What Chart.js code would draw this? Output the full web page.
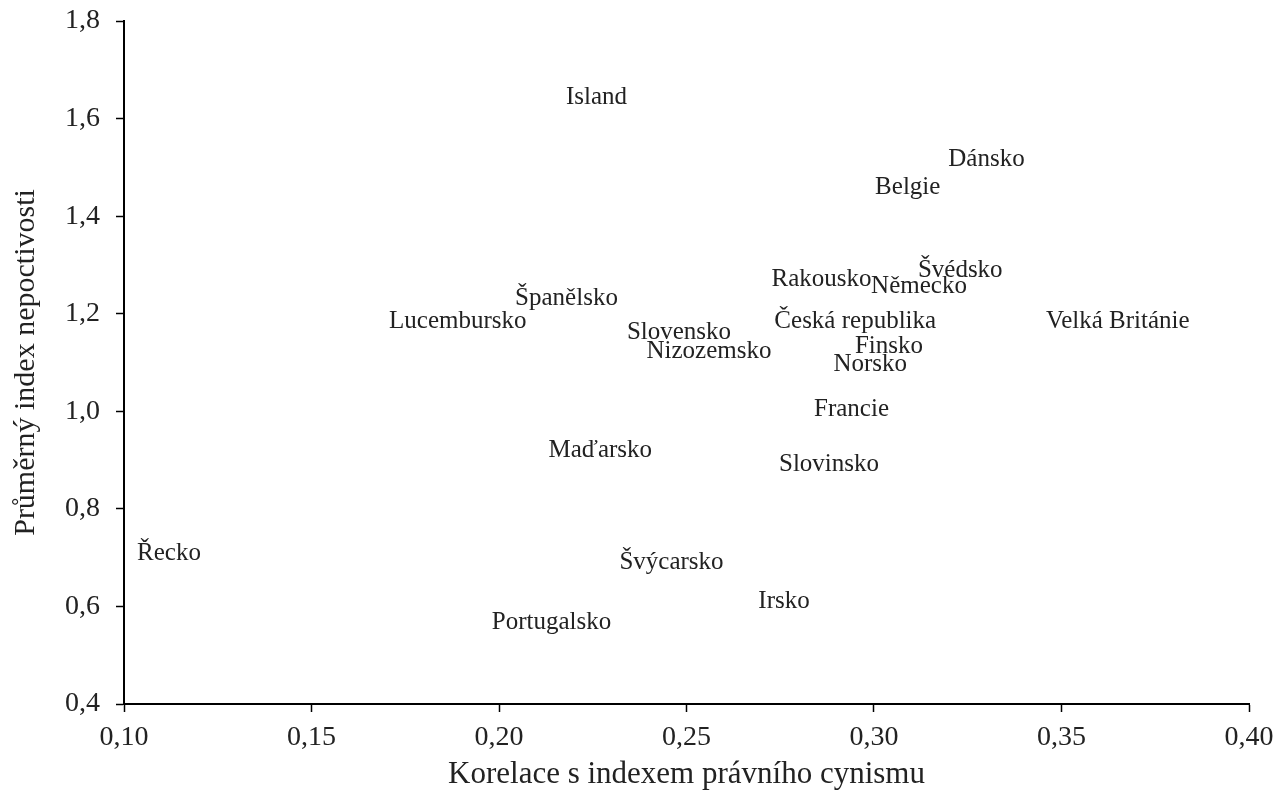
<!DOCTYPE html>
<html>
<head>
<meta charset="utf-8">
<script src="https://cdn.jsdelivr.net/npm/chart.js@4/dist/chart.umd.min.js"></script>
<style>
  html, body { margin: 0; padding: 0; background: #fff; }
  #wrap { width: 1283px; height: 795px; position: relative; }
</style>
</head>
<body>
<div id="wrap"><canvas id="c" width="1283" height="795"></canvas></div>
<script>
const countries = ["Island","Dánsko","Belgie","Švédsko","Rakousko","Německo","Španělsko","Lucembursko","Česká republika","Velká Británie","Slovensko","Nizozemsko","Finsko","Norsko","Francie","Maďarsko","Slovinsko","Řecko","Švýcarsko","Irsko","Portugalsko"];
const cynismCorrelation = [0.226,0.330,0.309,0.323,0.286,0.312,0.218,0.189,0.295,0.365,0.248,0.256,0.304,0.299,0.294,0.227,0.288,0.112,0.246,0.276,0.214];
const dishonestyIndex = [1.644,1.517,1.458,1.288,1.271,1.255,1.232,1.185,1.185,1.185,1.161,1.122,1.132,1.097,1.003,0.919,0.892,0.708,0.691,0.611,0.568];
const xTicks = [0.10,0.15,0.20,0.25,0.30,0.35,0.40];
const yTicks = [0.4,0.6,0.8,1.0,1.2,1.4,1.6,1.8];

const FONT = "'Liberation Serif', 'Times New Roman', serif";
const points = countries.map((c, i) => ({ x: cynismCorrelation[i], y: dishonestyIndex[i], label: c }));

const labelPlugin = {
  id: 'pointLabels',
  afterDatasetsDraw(chart) {
    const ctx = chart.ctx;
    const meta = chart.getDatasetMeta(0);
    ctx.save();
    ctx.font = "25px " + FONT;
    ctx.fillStyle = "#222";
    ctx.textAlign = "center";
    ctx.textBaseline = "middle";
    meta.data.forEach((el, i) => {
      ctx.fillText(countries[i], el.x, el.y);
    });
    ctx.restore();
  }
};

new Chart(document.getElementById('c'), {
  type: 'scatter',
  data: { datasets: [{ data: points, pointRadius: 0, pointHoverRadius: 0 }] },
  options: {
    responsive: false,
    animation: false,
    events: [],
    layout: { padding: { left: 0, right: 34, top: 21, bottom: 0 } },
    plugins: { legend: { display: false }, tooltip: { enabled: false } },
    scales: {
      x: {
        type: 'linear', min: 0.1, max: 0.4,
        afterBuildTicks(axis) { axis.ticks = xTicks.map(v => ({ value: v })); },
        afterFit(axis) { axis.height = 91; axis.paddingLeft = 0; axis.paddingRight = 0; },
        border: { color: '#000', width: 2 },
        grid: { drawOnChartArea: false, drawTicks: true, tickLength: 8, tickWidth: 1.5, tickColor: '#000' },
        ticks: { color: '#222', font: { family: FONT, size: 28 }, padding: 9, maxRotation: 0,
          callback: v => v.toFixed(2).replace('.', ',') },
        title: { display: true, text: 'Korelace s indexem právního cynismu', color: '#222',
          font: { family: FONT, size: 31 }, padding: { top: 0, bottom: 2 } }
      },
      y: {
        type: 'linear', min: 0.4, max: 1.8,
        afterBuildTicks(axis) { axis.ticks = yTicks.map(v => ({ value: v })); },
        afterFit(axis) { axis.width = 124; axis.paddingTop = 0; axis.paddingBottom = 0; },
        border: { color: '#000', width: 2 },
        grid: { drawOnChartArea: false, drawTicks: true, tickLength: 8, tickWidth: 1.5, tickColor: '#000' },
        ticks: { color: '#222', font: { family: FONT, size: 28 }, padding: 16,
          callback: v => v.toFixed(1).replace('.', ',') },
        title: { display: true, text: 'Průměrný index nepoctivosti', color: '#222',
          font: { family: FONT, size: 30 }, padding: { top: 8, bottom: 0 } }
      }
    }
  },
  plugins: [labelPlugin]
});
</script>
</body>
</html>
